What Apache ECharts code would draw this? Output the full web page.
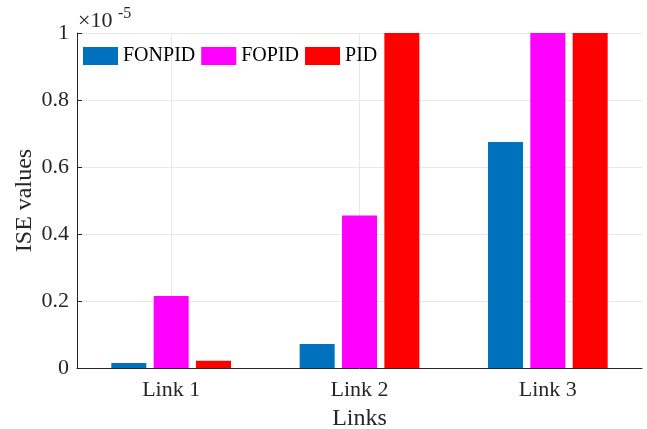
<!DOCTYPE html>
<html><head><meta charset="utf-8">
<script src="https://cdn.jsdelivr.net/npm/echarts@6/dist/echarts.min.js"></script>
<style>html,body{margin:0;padding:0;background:#fff}#c{width:647px;height:429px}</style>
</head><body><div id="c"></div>
<script>
const categories = ['Link 1', 'Link 2', 'Link 3'];
const fonpid = [0.015, 0.072, 0.675];
const fopid = [0.215, 0.455, 1.05];
const pid = [0.022, 1.05, 1.05];
const yTicks = [0, 0.2, 0.4, 0.6, 0.8, 1];
// helper axis slots used only to place vertical grid lines at category centres
const gridSlots = ['', '', '', '', '', '', ''];

const font = 'Liberation Serif';
const chart = echarts.init(document.getElementById('c'));
chart.setOption({
  animation: false,
  grid: {left: 77, right: 5, top: 33, bottom: 61, containLabel: false, outerBoundsMode: 'none'},
  legend: {
    left: 83, top: 46, padding: 0, itemGap: 6, itemWidth: 35, itemHeight: 18,
    icon: 'rect',
    textStyle: {fontFamily: font, fontSize: 20, color: '#000'},
    data: ['FONPID', 'FOPID', 'PID']
  },
  xAxis: [{
    type: 'category', data: categories,
    name: 'Links', nameLocation: 'middle', nameGap: 39,
    nameTextStyle: {fontFamily: font, fontSize: 24, color: '#262626'},
    axisLine: {lineStyle: {color: '#262626', width: 1}},
    axisTick: {alignWithLabel: true, inside: true, length: 5, lineStyle: {color: '#262626'}},
    axisLabel: {fontFamily: font, fontSize: 22, color: '#262626', margin: 11},
    splitLine: {show: false},
    z: 3
  }, {
    type: 'category', data: gridSlots, boundaryGap: false, position: 'bottom',
    axisLine: {show: false}, axisTick: {show: false}, axisLabel: {show: false},
    splitLine: {show: true, interval: (i) => i % 2 === 1, lineStyle: {color: '#e8e8e8'}},
    z: 0
  }],
  yAxis: {
    type: 'value', min: 0, max: 1, interval: 0.2,
    name: 'ISE values', nameLocation: 'middle', nameGap: 40, nameMoveOverlap: false,
    nameTextStyle: {fontFamily: font, fontSize: 24, color: '#262626'},
    axisLine: {show: true, lineStyle: {color: '#262626', width: 1}},
    axisTick: {show: true, inside: true, length: 5, lineStyle: {color: '#262626'}},
    axisLabel: {fontFamily: font, fontSize: 22, color: '#262626', margin: 8,
      formatter: v => { const t = yTicks.find(x => Math.abs(x - v) < 1e-9); return t === undefined ? '' : String(t); }},
    splitLine: {show: true, lineStyle: {color: '#e8e8e8'}}
  },
  series: [
    {name: 'FONPID', type: 'bar', data: fonpid, barWidth: 35, barGap: '21%', itemStyle: {color: '#0072BD'}, clip: true},
    {name: 'FOPID', type: 'bar', data: fopid, barWidth: 35, barGap: '21%', itemStyle: {color: '#FF00FF'}, clip: true},
    {name: 'PID', type: 'bar', data: pid, barWidth: 35, barGap: '21%', itemStyle: {color: '#FF0000'}, clip: true}
  ],
  graphic: [
    {type: 'text', left: 78, top: 10, style: {text: '×10', fontFamily: font, fontSize: 22, fill: '#262626'}},
    {type: 'text', left: 118, top: 6, style: {text: '-5', fontFamily: font, fontSize: 16, fill: '#262626'}}
  ]
});
</script></body></html>
